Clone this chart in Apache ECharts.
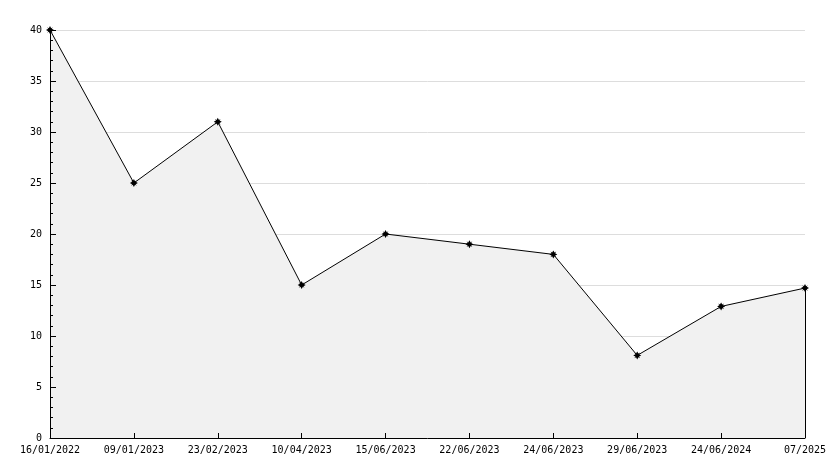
<!DOCTYPE html>
<html><head><meta charset="utf-8">
<script src="https://cdn.jsdelivr.net/npm/echarts@6/dist/echarts.min.js"></script>
<style>html,body{margin:0;padding:0;background:#fff}#c{width:834px;height:468px}</style>
</head><body><div id="c"></div>
<script>
const categories = ['16/01/2022','09/01/2023','23/02/2023','10/04/2023','15/06/2023','22/06/2023','24/06/2023','29/06/2023','24/06/2024','07/2025'];
const values = [40, 25, 31, 15, 20, 19, 18, 8.1, 12.9, 14.7];
const yTicks = {min: 0, max: 40, interval: 5};

const font = 'DejaVu Sans Mono';
const star = 'path://M0,-10L3,-4.5L7.1,-7.1L4.5,-3L10,0L4.5,3L7.1,7.1L3,4.5L0,10L-3,4.5L-7.1,7.1L-4.5,3L-10,0L-4.5,-3L-7.1,-7.1L-3,-4.5Z';
const chart = echarts.init(document.getElementById('c'), null, {renderer: 'canvas'});
const last = categories[categories.length - 1];
chart.setOption({
  animation: false,
  backgroundColor: '#fff',
  grid: {left: 50, right: 29, top: 30, bottom: 30, containLabel: false},
  xAxis: {
    type: 'category', data: categories, boundaryGap: false, z: 10,
    axisLine: {lineStyle: {color: '#000', width: 1}},
    axisTick: {inside: true, length: 5, lineStyle: {color: '#000'}},
    axisLabel: {color: '#000', fontFamily: font, fontSize: 10, margin: 7, interval: 0},
    splitLine: {show: false}
  },
  yAxis: [{
    type: 'value', min: yTicks.min, max: yTicks.max, interval: yTicks.interval, z: 0,
    axisLine: {show: false}, axisTick: {show: false}, axisLabel: {show: false},
    splitLine: {show: true, lineStyle: {color: '#dddddd', width: 1}}
  }, {
    type: 'value', min: yTicks.min, max: yTicks.max, interval: yTicks.interval, z: 10,
    position: 'left',
    axisLine: {show: true, lineStyle: {color: '#000', width: 1}},
    axisTick: {show: true, inside: true, length: 6, lineStyle: {color: '#000'}},
    minorTick: {show: true, splitNumber: 5, length: 3, lineStyle: {color: '#000'}},
    axisLabel: {color: '#000', fontFamily: font, fontSize: 10, margin: 8},
    splitLine: {show: false}
  }],
  series: [{
    type: 'line', data: values, yAxisIndex: 0, z: 5,
    lineStyle: {color: '#000', width: 1},
    areaStyle: {color: '#f1f1f1', opacity: 1},
    symbol: star, symbolSize: 8,
    itemStyle: {color: '#000'},
    markLine: {
      silent: true, symbol: 'none', label: {show: false},
      lineStyle: {color: '#000', width: 1, type: 'solid'},
      data: [[{coord: [last, 0]}, {coord: [last, values[values.length - 1]]}]]
    }
  }]
});
</script></body></html>
